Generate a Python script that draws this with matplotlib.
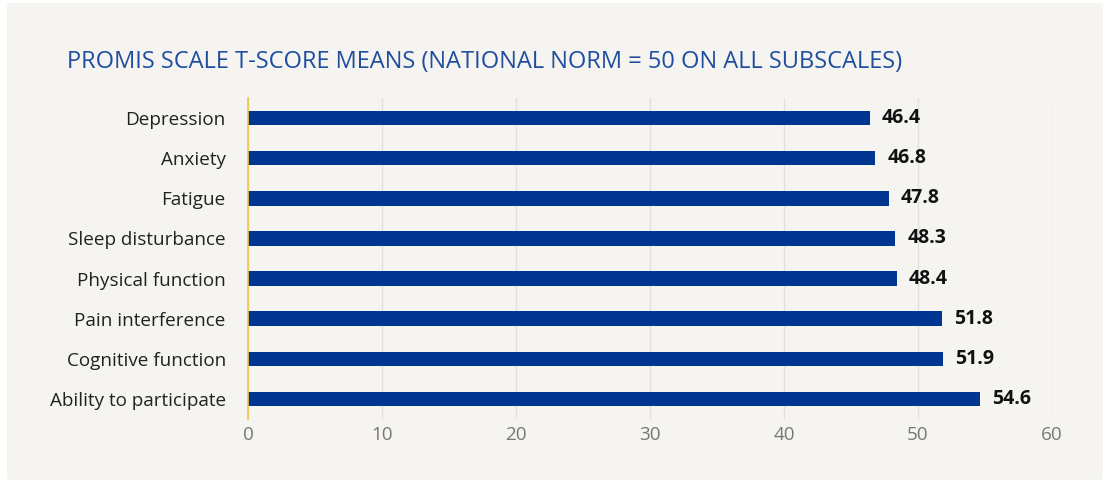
import matplotlib.pyplot as plt
from matplotlib.patches import FancyBboxPatch

# PROMIS subscale T-score means
scales = ["Depression", "Anxiety", "Fatigue", "Sleep disturbance",
          "Physical function", "Pain interference", "Cognitive function",
          "Ability to participate"]
means = [46.4, 46.8, 47.8, 48.3, 48.4, 51.8, 51.9, 54.6]
xticks = [0, 10, 20, 30, 40, 50, 60]

plt.rcParams['font.family'] = ['Open Sans', 'DejaVu Sans']

bg = "#f5f4f0"
bar_color = "#003591"

fig = plt.figure(figsize=(11.1, 4.83), dpi=100)
fig.patch.set_facecolor("white")
panel = FancyBboxPatch((7 / 1110, 3 / 483), 1096 / 1110, 477 / 483,
                       boxstyle="round,pad=0,rounding_size=0.004",
                       transform=fig.transFigure, facecolor=bg,
                       edgecolor="none", zorder=-10)
fig.patches.append(panel)

ax = fig.add_axes([248 / 1110, 1 - 419 / 483, 804 / 1110, 321 / 483])
ax.set_facecolor("none")

y = list(range(len(scales)))
ax.barh(y, means, height=0.36, color=bar_color, zorder=3)
for yi, v in zip(y, means):
    ax.text(v + 0.9, yi, f"{v:.1f}", va="center", ha="left",
            fontsize=14, fontweight="bold", color="#111111", zorder=4)

ax.set_xlim(0, 60)
ax.set_ylim(len(scales) - 0.5, -0.5)
ax.set_yticks(y)
ax.set_yticklabels(scales, fontsize=13.6, color="#222222")
ax.set_xticks(xticks)
ax.set_xticklabels([str(t) for t in xticks], fontsize=13.6, color="#777777")
ax.tick_params(axis="both", length=0)
ax.tick_params(axis="y", pad=16)
ax.tick_params(axis="x", pad=5)

ax.grid(axis="x", color="#e2e0dc", linewidth=1, zorder=0)
for s in ["top", "right", "bottom"]:
    ax.spines[s].set_visible(False)
ax.spines["left"].set_color("#f6c244")
ax.spines["left"].set_linewidth(1.2)
ax.spines["left"].set_zorder(5)

fig.text(67 / 1110, 1 - 62 / 483,
         "PROMIS SCALE T-SCORE MEANS (NATIONAL NORM = 50 ON ALL SUBSCALES)",
         fontsize=17, color="#1f4ea0", va="center", ha="left")

fig.savefig("out.png", dpi=100, facecolor=fig.get_facecolor())
